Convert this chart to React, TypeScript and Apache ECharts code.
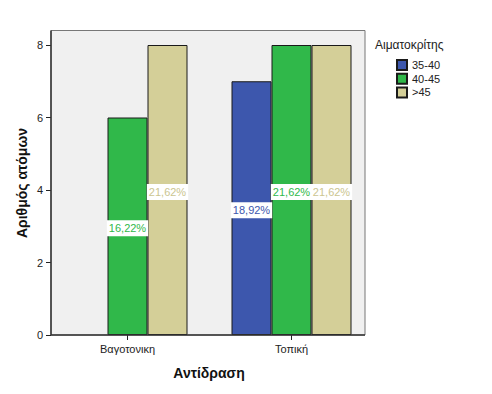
import React, { useEffect, useRef } from "react";
import * as echarts from "echarts";

const categories = ["Βαγοτονικη", "Τοπική"];
const seriesNames = ["35-40", "40-45", ">45"];
const values3540 = [null, 7];
const values4045 = [6, 8];
const valuesOver45 = [8, 8];
const pct3540 = ["", "18,92%"];
const pct4045 = ["16,22%", "21,62%"];
const pctOver45 = ["21,62%", "21,62%"];
const yMin = 0;
const yMax = 8;
const yInterval = 2;

const colors = ["#3d57ad", "#30b84a", "#d4cf98"];
const labelColors = ["#3d57ad", "#30b84a", "#cbc590"];
const FONT = "Liberation Sans, Arial, sans-serif";

export default function App() {
  const ref = useRef<HTMLDivElement>(null);
  useEffect(() => {
    if (!ref.current) return;
    const chart = echarts.init(ref.current, undefined, { renderer: "svg" });
    const vals = [values3540, values4045, valuesOver45];
    const pcts = [pct3540, pct4045, pctOver45];
    const series = seriesNames.map((name, i) => ({
      name,
      type: "bar",
      data: vals[i],
      barWidth: 40,
      barGap: "0%",
      z: 3,
      itemStyle: { color: colors[i], borderColor: "#1a1a1a", borderWidth: 1 },
      label: {
        show: true,
        position: "inside",
        offset: [0, 2],
        formatter: (p: any) => pcts[i][p.dataIndex] || "",
        color: labelColors[i],
        backgroundColor: "#ffffff",
        padding: [3, 2, 2, 2],
        fontSize: 11,
        fontWeight: "normal",
        fontFamily: FONT,
        textBorderWidth: 0,
        textBorderColor: "transparent",
      },
    }));
    chart.setOption({
      animation: false,
      backgroundColor: "#ffffff",
      grid: { left: 45.5, right: 118.5, top: 45, bottom: 59, containLabel: false },
      xAxis: {
        type: "category",
        data: categories,
        axisLine: { show: false },
        axisTick: { show: true, alignWithLabel: true, length: 5, lineStyle: { color: "#222" } },
        axisLabel: { color: "#222", fontSize: 11, fontFamily: FONT, margin: 8 },
      },
      yAxis: {
        type: "value",
        min: yMin,
        max: yMax,
        interval: yInterval,
        offset: -5.5,
        axisLine: { show: false },
        axisTick: { show: true, length: 5, lineStyle: { color: "#222" } },
        axisLabel: { color: "#222", fontSize: 11, fontFamily: FONT, margin: 8 },
        splitLine: { show: false },
      },
      legend: {
        orient: "vertical",
        left: 391,
        top: 54,
        itemWidth: 10,
        itemHeight: 10,
        itemGap: 1.7,
        icon: "rect",
        textStyle: { fontSize: 11, fontFamily: FONT, color: "#222" },
        data: seriesNames,
      },
      graphic: [
        {
          type: "rect",
          z: -10,
          shape: { x: 51, y: 30.5, width: 314, height: 304.5 },
          style: { fill: "#f0f0f0", stroke: "#777", lineWidth: 1 },
          silent: true,
        },
        {
          type: "line",
          z: 10,
          shape: { x1: 51, y1: 30.5, x2: 51, y2: 335 },
          style: { stroke: "#333", lineWidth: 1.5 },
        },
        {
          type: "line",
          z: 10,
          shape: { x1: 51, y1: 335, x2: 365, y2: 335 },
          style: { stroke: "#333", lineWidth: 1.5 },
        },
        {
          type: "text",
          x: 22,
          y: 183,
          rotation: Math.PI / 2,
          style: {
            text: "Αριθμός ατόμων",
            fontSize: 14,
            fontWeight: "bold",
            fontFamily: FONT,
            fill: "#111",
            align: "center",
            verticalAlign: "middle",
          },
        },
        {
          type: "text",
          x: 209,
          y: 373,
          style: {
            text: "Αντίδραση",
            fontSize: 14,
            fontWeight: "bold",
            fontFamily: FONT,
            fill: "#111",
            align: "center",
            verticalAlign: "middle",
          },
        },
        {
          type: "text",
          x: 375,
          y: 45,
          style: {
            text: "Αιματοκρίτης",
            fontSize: 12,
            fontFamily: FONT,
            fill: "#222",
            align: "left",
            verticalAlign: "middle",
          },
        },
      ],
      series,
    });
    return () => chart.dispose();
  }, []);
  return <div ref={ref} style={{ width: 492, height: 394, position: "absolute", left: 0, top: 0 }} />;
}
